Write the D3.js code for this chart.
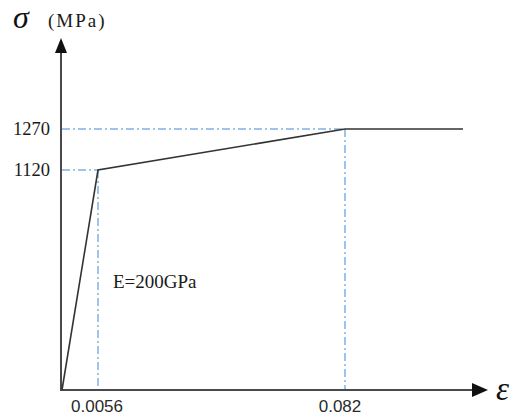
<!DOCTYPE html>
<html>
<head>
<meta charset="utf-8">
<script src="https://cdn.jsdelivr.net/npm/d3@7"></script>
<style>
  html, body { margin: 0; padding: 0; background: #fff; }
  svg { display: block; }
</style>
</head>
<body>
<script>
// Data (schematic bilinear stress-strain model)
const strain = [0, 0.0056, 0.082, 0.12];
const stress = [0, 1120, 1270, 1270];
const xTickValues = [0.0056, 0.082];
const xTickLabels = ["0.0056", "0.082"];
const yTickValues = [1120, 1270];
const yTickLabels = ["1120", "1270"];
const annotation = "E=200GPa";

const W = 522, H = 417;
const svg = d3.select("body").append("svg").attr("width", W).attr("height", H);

// Schematic (non-uniform) scales, piecewise linear as in the drawing
const x = d3.scaleLinear().domain([0, 0.0056, 0.082, 0.12]).range([62, 98, 345, 463]);
const y = d3.scaleLinear().domain([0, 1120, 1270]).range([390, 170, 129]);

const axisColor = "#4a4a4a";
const guideColor = "#7fb2e0";

// Guide lines (dash-dot)
const dash = "8,3,2,3";
yTickValues.forEach((v, i) => {
  svg.append("line")
    .attr("x1", x(0)).attr("x2", x(xTickValues[i]))
    .attr("y1", y(v)).attr("y2", y(v))
    .attr("stroke", guideColor).attr("stroke-width", 1.5)
    .attr("stroke-dasharray", dash);
  svg.append("line")
    .attr("x1", x(xTickValues[i])).attr("x2", x(xTickValues[i]))
    .attr("y1", y(v)).attr("y2", y(0))
    .attr("stroke", guideColor).attr("stroke-width", 1.5)
    .attr("stroke-dasharray", dash);
});

// Axes
svg.append("line").attr("x1", 61).attr("x2", 61).attr("y1", y(0) + 1).attr("y2", 50)
  .attr("stroke", axisColor).attr("stroke-width", 2);
svg.append("path").attr("d", "M61,38 L55,53 L67,53 Z").attr("fill", "#111");
svg.append("line").attr("x1", 60).attr("x2", 476).attr("y1", y(0)).attr("y2", y(0))
  .attr("stroke", axisColor).attr("stroke-width", 2);
svg.append("path").attr("d", `M488,${y(0)} L472,${y(0)-7} L472,${y(0)+7} Z`).attr("fill", "#111");

// Curve
const line = d3.line().x((d, i) => x(strain[i])).y((d, i) => y(stress[i]));
svg.append("path").datum(stress).attr("d", line)
  .attr("fill", "none").attr("stroke", "#333").attr("stroke-width", 1.6);

// Y tick labels
yTickValues.forEach((v, i) => {
  svg.append("text").attr("x", 50).attr("y", y(v) + 6)
    .attr("text-anchor", "end")
    .attr("font-family", "'Liberation Serif', 'Times New Roman', serif")
    .attr("font-size", 18.5).attr("fill", "#1a1a1a")
    .text(yTickLabels[i]);
});

// X tick labels
const xOffsets = [-1, -5];
xTickValues.forEach((v, i) => {
  svg.append("text").attr("x", x(v) + xOffsets[i]).attr("y", 412)
    .attr("text-anchor", "middle")
    .attr("font-family", "'Liberation Sans', Arial, sans-serif")
    .attr("font-size", 17).attr("fill", "#2a2a2a")
    .text(xTickLabels[i]);
});

// Axis titles
svg.append("text").attr("x", 13).attr("y", 28)
  .attr("font-family", "'Liberation Serif', 'Times New Roman', serif")
  .attr("font-style", "italic").attr("font-size", 32).attr("fill", "#111")
  .text("σ");
svg.append("text").attr("x", 48).attr("y", 27)
  .attr("font-family", "'Liberation Serif', 'Times New Roman', serif")
  .attr("font-size", 19).attr("letter-spacing", 2).attr("fill", "#1a1a1a")
  .text("(MPa)");
svg.append("text").attr("x", 496).attr("y", 400)
  .attr("font-family", "'Liberation Serif', 'Times New Roman', serif")
  .attr("font-style", "italic").attr("font-size", 33).attr("fill", "#111")
  .text("ε");

// Annotation
svg.append("text").attr("x", 113).attr("y", 288)
  .attr("font-family", "'Liberation Serif', 'Times New Roman', serif")
  .attr("font-size", 19).attr("fill", "#1a1a1a")
  .text(annotation);
</script>
</body>
</html>
